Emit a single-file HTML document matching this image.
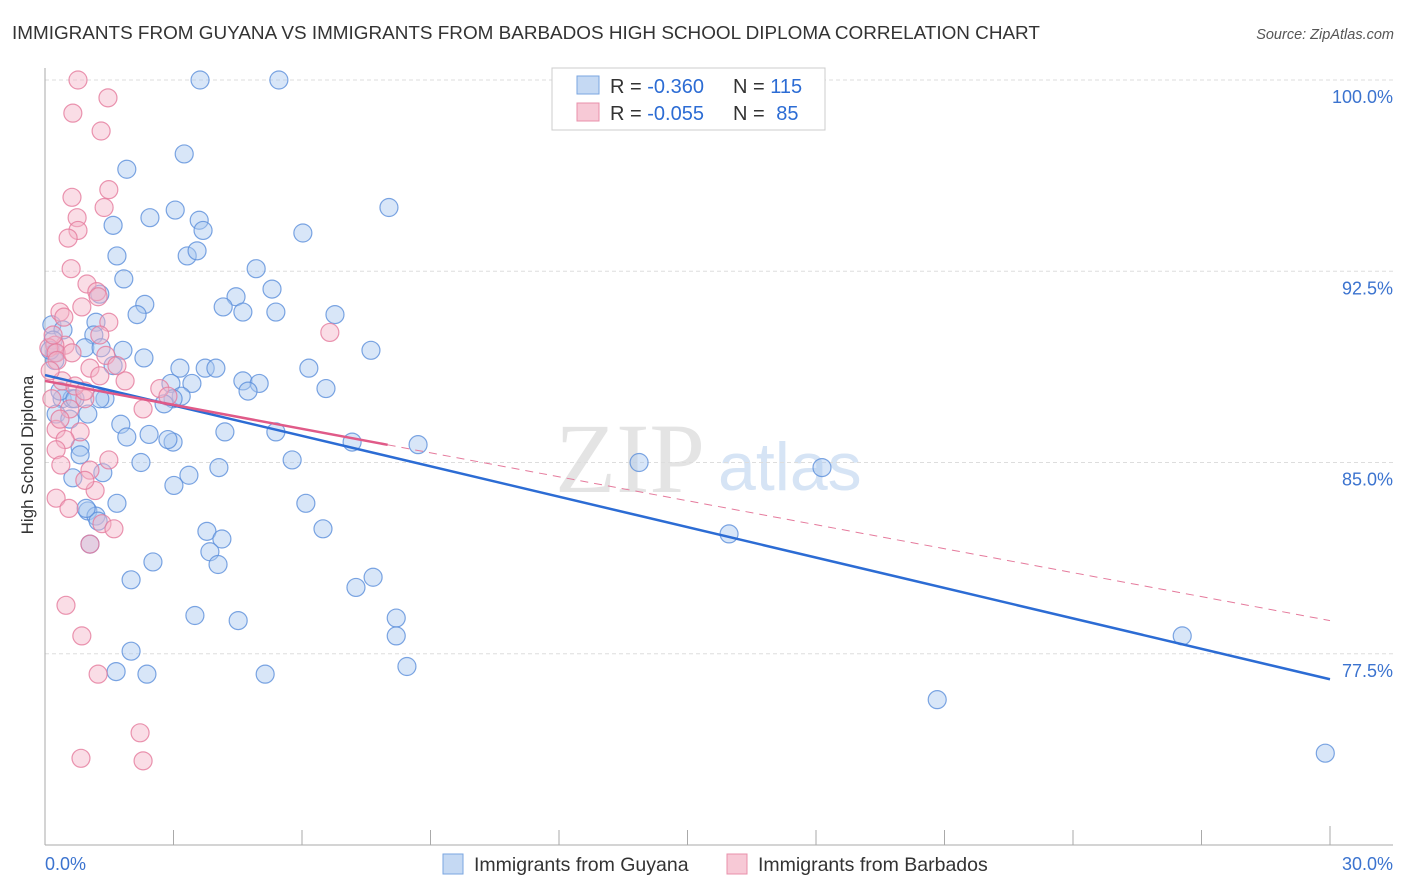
<!DOCTYPE html>
<html><head><meta charset="utf-8"><style>
body{margin:0;background:#fff;font-family:"Liberation Sans",sans-serif;}
svg{display:block}
</style></head><body>
<svg id="chart" width="1406" height="892">
<text x="12" y="39" font-size="18.9" fill="#333">IMMIGRANTS FROM GUYANA VS IMMIGRANTS FROM BARBADOS HIGH SCHOOL DIPLOMA CORRELATION CHART</text>
<text x="1394" y="39" font-size="14.5" fill="#555" font-style="italic" text-anchor="end">Source: ZipAtlas.com</text>
<g>
<text x="555" y="492" font-size="100" fill="#e4e4e4" font-family="Liberation Serif,serif">ZIP</text>
<text x="718" y="490" font-size="68" fill="#d6e4f5">atlas</text>
</g>
<g id="grid"></g>
<g id="axes"></g>
<g id="pts"></g>
<g id="trends"></g>
<text transform="translate(33,455) rotate(-90)" font-size="17" fill="#333" text-anchor="middle">High School Diploma</text>
<g>
<rect x="552" y="68" width="273" height="62" fill="#fff" stroke="#ccc"/>
<rect x="577" y="76" width="22" height="18" fill="#c5d9f3" stroke="#7aa6e0"/>
<rect x="577" y="103" width="22" height="18" fill="#f7c9d6" stroke="#e890ab"/>
<text x="610" y="93" font-size="20" fill="#333">R = <tspan fill="#2c6cd4">-0.360</tspan></text>
<text x="733" y="93" font-size="20" fill="#333">N = <tspan fill="#2c6cd4">115</tspan></text>
<text x="610" y="120" font-size="20" fill="#333">R = <tspan fill="#2c6cd4">-0.055</tspan></text>
<text x="733" y="120" font-size="20" fill="#333">N = <tspan fill="#2c6cd4" dx="6">85</tspan></text>
</g>
<g>
<rect x="443" y="854" width="20" height="20" fill="#c5d9f3" stroke="#7aa6e0"/>
<text x="474" y="871" font-size="19.5" fill="#333">Immigrants from Guyana</text>
<rect x="727" y="854" width="20" height="20" fill="#f7c9d6" stroke="#e890ab"/>
<text x="758" y="871" font-size="19.5" fill="#333">Immigrants from Barbados</text>
</g>
</svg>
<script>
const yTicks=[100,92.5,85,77.5];
const yTickLabels=["100.0%","92.5%","85.0%","77.5%"];
const xTickLabels=["0.0%","30.0%"];
const guyanaX=[3.62,5.46,1.91,3.25,8.03,2.45,3.04,1.59,3.60,3.69,6.02,3.32,3.55,1.68,4.93,1.84,2.33,4.46,5.30,1.28,2.15,4.16,4.62,5.39,6.77,0.16,0.42,1.19,1.14,0.19,0.93,1.31,1.82,2.31,0.23,7.61,3.15,3.74,3.99,6.16,1.59,4.62,5.00,2.94,3.43,6.56,4.74,1.40,3.18,2.99,0.40,0.63,2.78,1.00,0.26,1.77,4.20,5.39,1.91,2.43,2.99,2.87,7.17,8.71,0.82,0.82,2.24,5.77,13.87,18.14,4.06,3.36,1.35,3.01,0.65,1.68,6.09,1.00,1.19,1.24,0.96,3.78,6.49,4.13,15.97,3.85,1.05,2.52,4.04,7.66,2.01,7.26,8.20,3.50,4.51,8.20,2.01,8.45,1.66,2.38,5.14,20.83,26.55,29.89,0.23,0.12,0.35,0.70,0.58,1.28];
const guyanaY=[100.0,100.0,96.5,97.1,95.0,94.6,94.9,94.3,94.5,94.1,94.0,93.1,93.3,93.1,92.6,92.2,91.2,91.5,91.8,91.6,90.8,91.1,90.9,90.9,90.8,90.4,90.2,90.5,90.0,89.8,89.5,89.5,89.4,89.1,89.3,89.4,88.7,88.7,88.7,88.7,88.8,88.2,88.1,88.1,88.1,87.9,87.8,87.5,87.6,87.5,87.5,87.5,87.3,86.9,86.9,86.5,86.2,86.2,86.0,86.1,85.8,85.9,85.8,85.7,85.6,85.3,85.0,85.1,85.0,84.8,84.8,84.5,84.6,84.1,84.4,83.4,83.4,83.1,82.9,82.7,83.2,82.3,82.4,82.0,82.2,81.5,81.8,81.1,81.0,80.5,80.4,80.1,78.9,79.0,78.8,78.2,77.6,77.0,76.8,76.7,76.7,75.7,78.2,73.6,89.0,89.4,87.8,87.5,86.7,87.5];
const barbadosX=[0.77,1.47,0.65,1.31,1.49,0.63,1.38,0.75,0.77,0.54,0.61,0.98,1.21,1.24,0.35,0.86,0.44,1.49,0.47,1.28,0.23,0.09,0.26,1.42,1.68,1.87,1.05,2.68,2.87,2.29,0.28,0.40,0.16,0.58,0.93,0.26,0.82,0.47,0.26,1.05,0.37,1.17,0.93,1.49,0.26,0.56,1.33,1.61,1.05,6.65,0.49,0.86,1.24,2.22,0.84,2.29,0.12,0.35,0.70,0.93,1.28,0.19,0.63];
const barbadosY=[100.0,99.3,98.7,98.0,95.7,95.4,95.0,94.6,94.1,93.8,92.6,92.0,91.7,91.5,90.9,91.1,90.7,90.5,89.6,90.0,89.6,89.5,89.3,89.2,88.8,88.2,88.7,87.9,87.6,87.1,89.0,88.2,87.5,87.1,87.5,86.3,86.2,85.9,85.5,84.7,84.9,83.9,84.3,85.1,83.6,83.2,82.6,82.4,81.8,90.1,79.4,78.2,76.7,74.4,73.4,73.3,88.6,86.7,88.0,87.8,88.4,90.0,89.3];
const guyanaTrend=[88.43,76.5];
const barbadosTrend=[88.2,78.8];
const barbadosSolidEnd=8;

const NS="http://www.w3.org/2000/svg";
const X=v=>45+v*(1285/30);
const Y=v=>80+(100-v)*25.5;
function mk(t,a,p){const e=document.createElementNS(NS,t);for(const k in a)e.setAttribute(k,a[k]);p.appendChild(e);return e;}
const grid=document.getElementById('grid'),axes=document.getElementById('axes'),pts=document.getElementById('pts'),tr=document.getElementById('trends');
yTicks.forEach((v,i)=>{
 const l=mk('line',{x1:45,x2:1393,y1:Y(v),y2:Y(v),stroke:'#ddd','stroke-dasharray':'4,3'},grid);
 
 
 const t=mk('text',{x:1393,y:Y(v)+23,'font-size':18,fill:'#3b73cf','text-anchor':'end'},grid);
 t.textContent=yTickLabels[i];
 
 
});
let a=mk('line',{x1:45,x2:45,y1:68,y2:845,stroke:'#aaa'},axes);


a=mk('line',{x1:45,x2:1393,y1:845,y2:845,stroke:'#aaa'},axes);


for(let i=1;i<=10;i++){const x=X(i*3);const tk=mk('line',{x1:x,x2:x,y1:i==10?826:830,y2:845,stroke:'#aaa'},axes);
 
 }
[[0,'start',45],[30,'end',1393]].forEach((d,i)=>{const t=mk('text',{x:d[2],y:870,'font-size':18,fill:'#3b73cf','text-anchor':d[1]},axes);t.textContent=xTickLabels[i];
 
 });
function dots(xs,ys,fill,stroke,name){xs.forEach((x,i)=>{const c=mk('circle',{cx:X(x),cy:Y(ys[i]),r:9,fill:fill,'fill-opacity':0.45,stroke:stroke,'stroke-opacity':0.8,'stroke-width':1.2},pts);
 
 });}
dots(guyanaX,guyanaY,'#a9c8f0','#5b8fdb','guyana-point');
dots(barbadosX,barbadosY,'#f5b3c7','#e57a9c','barbados-point');
const ly=(t,x)=>t[0]+(t[1]-t[0])*x/30;
let l=mk('line',{x1:X(0),y1:Y(ly(guyanaTrend,0)),x2:X(30),y2:Y(ly(guyanaTrend,30)),stroke:'#2c6cd4','stroke-width':2.5},tr);


l=mk('line',{x1:X(barbadosSolidEnd),y1:Y(ly(barbadosTrend,barbadosSolidEnd)),x2:X(30),y2:Y(ly(barbadosTrend,30)),stroke:'#e57a9c','stroke-width':1,'stroke-dasharray':'8,6'},tr);


l=mk('line',{x1:X(0),y1:Y(ly(barbadosTrend,0)),x2:X(barbadosSolidEnd),y2:Y(ly(barbadosTrend,barbadosSolidEnd)),stroke:'#e05a88','stroke-width':2.5},tr);


</script>
</body></html>
